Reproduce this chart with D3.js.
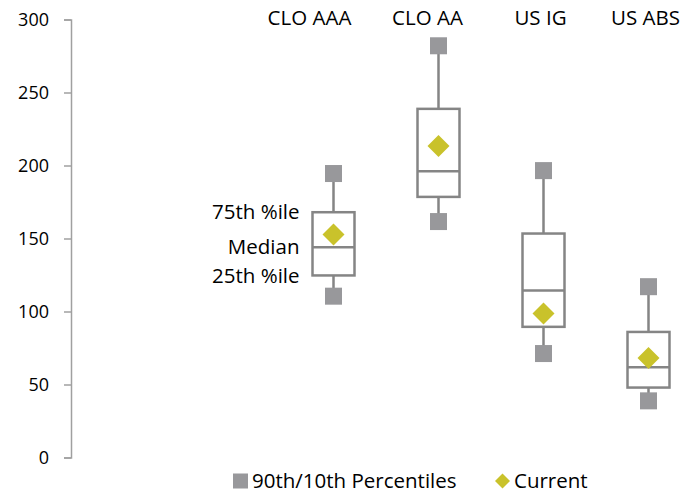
<!DOCTYPE html>
<html><head><meta charset="utf-8">
<script src="https://cdn.jsdelivr.net/npm/d3@7"></script>
<style>body{margin:0;background:#fff}text{font-family:"Open Sans",sans-serif;fill:#000}</style>
</head><body><svg id="c" width="684" height="494"></svg>
<script>
const categories = ["CLO AAA","CLO AA","US IG","US ABS"];
const p90 = [194.5, 282, 196.5, 117];
const p75 = [168, 238.8, 153.4, 86];
const median = [144, 196, 114.4, 61.8];
const p25 = [124.7, 178.5, 89.5, 47.9];
const p10 = [110.5, 161.6, 71.2, 38.8];
const current = [152.7, 213.4, 98.6, 68.2];
const yTicks = [0, 50, 100, 150, 200, 250, 300];
const annotLabels = ["75th %ile", "Median", "25th %ile"];

const FS = "20.5px", TFS = "18px";
const svg = d3.select("#c");
const y = d3.scaleLinear().domain([0, 300]).range([457.5, 19.5]);
const x = d3.scaleBand().domain(categories).range([281, 701]);
const cx = c => x(c) + x.bandwidth() / 2;
const boxW = 42, sq = 17, dia = 22;
const grayBox = "#858585", grayMark = "#98989b", gold = "#c9c22b";

// axis
const ax = svg.append("g").attr("transform", "translate(71,0)")
  .call(d3.axisLeft(y).tickValues(yTicks).tickSize(7).tickPadding(15));
ax.select(".domain").attr("stroke", "#a0a0a0").attr("stroke-width", 1.5);
ax.selectAll(".tick line").attr("stroke", "#a0a0a0").attr("stroke-width", 1.5);
ax.selectAll(".tick text").style("font-size", TFS).style("font-family", "'Open Sans',sans-serif").attr("fill", "#000");

const data = categories.map((c, i) => ({c, p90: p90[i], p75: p75[i], med: median[i], p25: p25[i], p10: p10[i], cur: current[i]}));
const g = svg.append("g");
// whiskers
g.selectAll(".wu").data(data).join("line").attr("x1", d => cx(d.c)).attr("x2", d => cx(d.c))
  .attr("y1", d => y(d.p90)).attr("y2", d => y(d.p75)).attr("stroke", grayBox).attr("stroke-width", 2.5);
g.selectAll(".wl").data(data).join("line").attr("x1", d => cx(d.c)).attr("x2", d => cx(d.c))
  .attr("y1", d => y(d.p25)).attr("y2", d => y(d.p10)).attr("stroke", grayBox).attr("stroke-width", 2.5);
// boxes
g.selectAll(".box").data(data).join("rect").attr("x", d => cx(d.c) - boxW / 2).attr("width", boxW)
  .attr("y", d => y(d.p75)).attr("height", d => y(d.p25) - y(d.p75))
  .attr("fill", "#fff").attr("stroke", grayBox).attr("stroke-width", 2.5);
g.selectAll(".med").data(data).join("line").attr("x1", d => cx(d.c) - boxW / 2).attr("x2", d => cx(d.c) + boxW / 2)
  .attr("y1", d => y(d.med)).attr("y2", d => y(d.med)).attr("stroke", grayBox).attr("stroke-width", 2.5);
// percentile squares
g.selectAll(".s90").data(data).join("rect").attr("x", d => cx(d.c) - sq / 2).attr("y", d => y(d.p90) - sq / 2)
  .attr("width", sq).attr("height", sq).attr("fill", grayMark);
g.selectAll(".s10").data(data).join("rect").attr("x", d => cx(d.c) - sq / 2).attr("y", d => y(d.p10) - sq / 2)
  .attr("width", sq).attr("height", sq).attr("fill", grayMark);
// diamonds
const dpath = h => `M0,${-h}L${h},0L0,${h}L${-h},0Z`;
g.selectAll(".dia").data(data).join("path").attr("d", dpath(dia / 2))
  .attr("transform", d => `translate(${cx(d.c)},${y(d.cur)})`).attr("fill", gold);

// category labels
const labelDx = [-24, -11, -3, -3];
svg.selectAll(".cat").data(categories).join("text")
  .attr("x", (c, i) => cx(c) + labelDx[i]).attr("y", 25).attr("text-anchor", "middle")
  .style("font-size", FS).text(c => c);

// annotation labels
const a = data[0];
const annY = [a.p75, a.med, a.p25];
svg.selectAll(".ann").data(annotLabels).join("text")
  .attr("x", cx(a.c) - boxW / 2 - 13).attr("y", (t, i) => y(annY[i])).attr("dy", "0.35em")
  .attr("text-anchor", "end").style("font-size", FS).text(t => t);

// legend
const lg = svg.append("g").attr("transform", "translate(0,481)");
lg.append("rect").attr("x", 233).attr("y", -7.5).attr("width", 15).attr("height", 15).attr("fill", grayMark);
lg.append("text").attr("x", 252).attr("dy", "0.35em").style("font-size", FS).text("90th/10th Percentiles");
lg.append("path").attr("d", dpath(7.5)).attr("transform", "translate(502.5,0)").attr("fill", gold);
lg.append("text").attr("x", 514).attr("dy", "0.35em").style("font-size", FS).text("Current");
</script></body></html>
